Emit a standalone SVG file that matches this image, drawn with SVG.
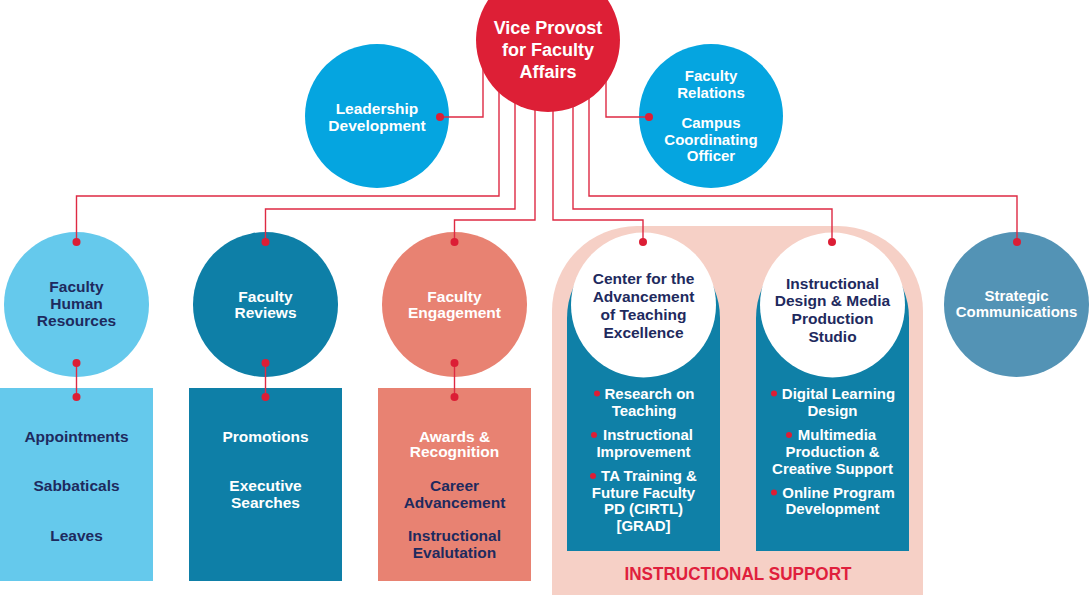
<svg xmlns="http://www.w3.org/2000/svg" width="1090" height="595" viewBox="0 0 1090 595">
<style>
text{font-family:"Liberation Sans",Arial,sans-serif;font-weight:bold;text-anchor:middle;font-size:15px}
.w{fill:#ffffff}
.n{fill:#1e2a5e}
.big{font-size:18px}
.t{font-size:15.5px}
.conn{fill:none;stroke:#de2a43;stroke-width:1.4}
.dot{fill:#dc1e35}
.bul{fill:#dc1e35}
</style>
<rect width="1090" height="595" fill="#ffffff"/>

<g id="instructional-support">
<path d="M552,595 V311 A85,85 0 0 1 637,226 H838 A85,85 0 0 1 923,311 V595 Z" fill="#f6d0c6"/>
<text x="738" y="580" style="font-size:18px" fill="#e01f3d" textLength="227" lengthAdjust="spacingAndGlyphs">INSTRUCTIONAL SUPPORT</text>
</g>

<g id="leadership-development">
<circle cx="377" cy="116" r="72" fill="#05a5e0"/>
<text class="w t" x="377" y="113.5">Leadership</text>
<text class="w t" x="377" y="130.5">Development</text>
</g>

<g id="faculty-relations">
<circle cx="711" cy="116" r="72" fill="#05a5e0"/>
<text class="w" x="711" y="81">Faculty</text>
<text class="w" x="711" y="98">Relations</text>
<text class="w" x="711" y="128">Campus</text>
<text class="w" x="711" y="144.5">Coordinating</text>
<text class="w" x="711" y="161">Officer</text>
</g>

<g id="faculty-human-resources">
<circle cx="76.5" cy="304.5" r="72.5" fill="#65c9ec"/>
<text class="n t" x="76.5" y="292">Faculty</text>
<text class="n t" x="76.5" y="308.5">Human</text>
<text class="n t" x="76.5" y="325.5">Resources</text>
<rect x="0" y="388" width="153" height="193" fill="#65c9ec"/>
<text class="n t" x="76.5" y="441.5">Appointments</text>
<text class="n t" x="76.5" y="491">Sabbaticals</text>
<text class="n t" x="76.5" y="541">Leaves</text>
</g>

<g id="faculty-reviews">
<circle cx="265.5" cy="304.5" r="72.5" fill="#0e7fa7"/>
<text class="w t" x="265.5" y="301.5">Faculty</text>
<text class="w t" x="265.5" y="318">Reviews</text>
<rect x="189" y="388" width="153" height="193" fill="#0e7fa7"/>
<text class="w t" x="265.5" y="441.5">Promotions</text>
<text class="w t" x="265.5" y="491">Executive</text>
<text class="w t" x="265.5" y="508">Searches</text>
</g>

<g id="faculty-engagement">
<circle cx="454.5" cy="304.5" r="72.5" fill="#e88272"/>
<text class="w t" x="454.5" y="301.5">Faculty</text>
<text class="w t" x="454.5" y="318">Engagement</text>
<rect x="378" y="388" width="153" height="193" fill="#e88272"/>
<text class="w t" x="454.5" y="441.5">Awards &amp;</text>
<text class="w t" x="454.5" y="457">Recognition</text>
<text class="n t" x="454.5" y="491">Career</text>
<text class="n t" x="454.5" y="508">Advancement</text>
<text class="n t" x="454.5" y="541">Instructional</text>
<text class="n t" x="454.5" y="558">Evalutation</text>
</g>

<g id="cate">
<path d="M567,551 V318 A76.5,76.5 0 0 1 720,318 V551 Z" fill="#0f80a7"/>
<circle cx="643.5" cy="305" r="72.5" fill="#ffffff"/>
<text class="n t" x="643.5" y="284">Center for the</text>
<text class="n t" x="643.5" y="302">Advancement</text>
<text class="n t" x="643.5" y="320">of Teaching</text>
<text class="n t" x="643.5" y="338">Excellence</text>
<circle class="bul" cx="597" cy="393.5" r="3"/>
<text class="w" x="649.5" y="399">Research on</text>
<text class="w" x="644" y="416">Teaching</text>
<circle class="bul" cx="594" cy="435" r="3"/>
<text class="w" x="648" y="440">Instructional</text>
<text class="w" x="643.5" y="456.5">Improvement</text>
<circle class="bul" cx="593" cy="476" r="3"/>
<text class="w" x="649" y="481">TA Training &amp;</text>
<text class="w" x="643.5" y="498">Future Faculty</text>
<text class="w" x="643.5" y="514">PD (CIRTL)</text>
<text class="w" x="643.5" y="530.5">[GRAD]</text>
</g>

<g id="idmps">
<path d="M756,551 V318 A76.5,76.5 0 0 1 909,318 V551 Z" fill="#0f80a7"/>
<circle cx="832.5" cy="305" r="72.5" fill="#ffffff"/>
<text class="n t" x="832.5" y="288.5">Instructional</text>
<text class="n t" x="832.5" y="306">Design &amp; Media</text>
<text class="n t" x="832.5" y="324">Production</text>
<text class="n t" x="832.5" y="342">Studio</text>
<circle class="bul" cx="774" cy="393.5" r="3"/>
<text class="w" x="838.5" y="399">Digital Learning</text>
<text class="w" x="832.5" y="416">Design</text>
<circle class="bul" cx="789" cy="435" r="3"/>
<text class="w" x="837" y="440">Multimedia</text>
<text class="w" x="832.5" y="456.5">Production &amp;</text>
<text class="w" x="832.5" y="474">Creative Support</text>
<circle class="bul" cx="774" cy="492.5" r="3"/>
<text class="w" x="838.5" y="498">Online Program</text>
<text class="w" x="832.5" y="514">Development</text>
</g>

<g id="strategic-communications">
<circle cx="1016.5" cy="304.5" r="72.5" fill="#5393b5"/>
<text class="w" x="1016.5" y="300.5">Strategic</text>
<text class="w" x="1016.5" y="317">Communications</text>
</g>

<g id="connectors">
<path class="conn" d="M483,60 V117 H440"/>
<path class="conn" d="M606,60 V117 H649"/>
<path class="conn" d="M499,80 V196 H76.5 V242"/>
<path class="conn" d="M515,80 V209 H265.5 V242"/>
<path class="conn" d="M535,80 V220 H454.5 V242"/>
<path class="conn" d="M553,80 V220 H643 V242"/>
<path class="conn" d="M573,80 V209 H832 V242"/>
<path class="conn" d="M589,80 V196 H1017 V242"/>
<path class="conn" d="M76.5,363 V397"/>
<path class="conn" d="M265.5,363 V397"/>
<path class="conn" d="M454.5,363 V397"/>
<circle class="dot" cx="440" cy="117" r="4"/>
<circle class="dot" cx="649" cy="117" r="4"/>
<circle class="dot" cx="76.5" cy="242" r="4"/>
<circle class="dot" cx="265.5" cy="242" r="4"/>
<circle class="dot" cx="454.5" cy="242" r="4"/>
<circle class="dot" cx="643" cy="242" r="4"/>
<circle class="dot" cx="832" cy="242" r="4"/>
<circle class="dot" cx="1017" cy="242" r="4"/>
<circle class="dot" cx="76.5" cy="363" r="4"/>
<circle class="dot" cx="265.5" cy="363" r="4"/>
<circle class="dot" cx="454.5" cy="363" r="4"/>
<circle class="dot" cx="76.5" cy="397" r="4"/>
<circle class="dot" cx="265.5" cy="397" r="4"/>
<circle class="dot" cx="454.5" cy="397" r="4"/>
</g>

<g id="vice-provost">
<circle cx="548" cy="40" r="72" fill="#dd1f36"/>
<text class="w big" x="548" y="33.5">Vice Provost</text>
<text class="w big" x="548" y="56">for Faculty</text>
<text class="w big" x="548" y="77.5">Affairs</text>
</g>
</svg>
